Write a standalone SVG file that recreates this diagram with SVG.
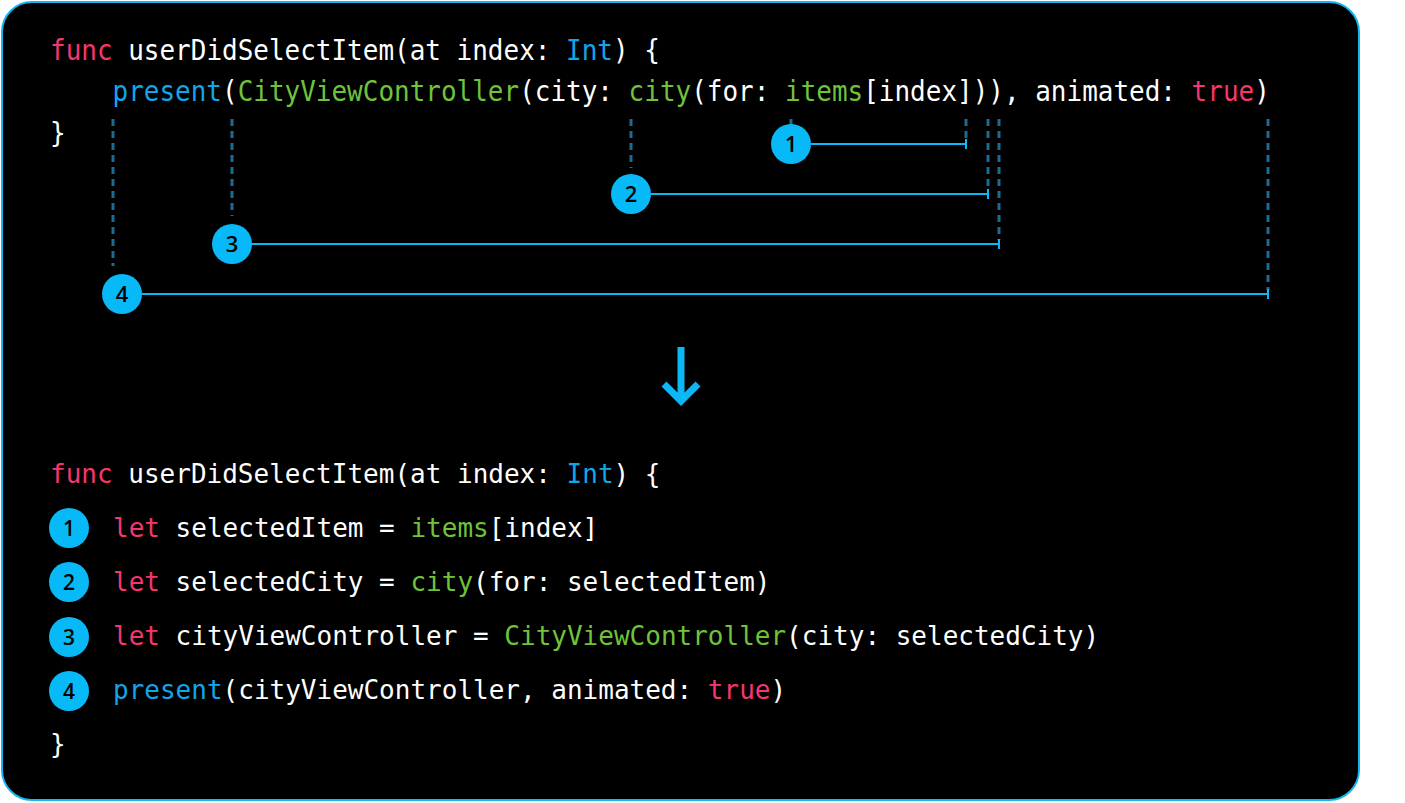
<svg xmlns="http://www.w3.org/2000/svg" width="1405" height="803" viewBox="0 0 1405 803">
<style>
.code{font-family:"DejaVu Sans Mono","Liberation Mono",monospace;fill:#ffffff;white-space:pre}
.top{font-size:28px}
.bot{font-size:26px}
.kw{fill:#f5366f}
.bl{fill:#11a6ea}
.gr{fill:#6fc33b}
.num{font-family:"Open Sans","Noto Sans",sans-serif;font-weight:600;fill:#000000;text-anchor:middle}
.n-top{font-size:22px}
.n-bot{font-size:21px}
.dash{stroke:#1b6c93;stroke-width:3;stroke-dasharray:7 5;fill:none}
.conn{stroke:#0bb8f5;stroke-width:2;fill:none}
.badge{fill:#08b9f8}
</style>
<rect width="1405" height="803" fill="#ffffff"/>
<rect id="panel" x="2" y="2" width="1357" height="798" rx="30" ry="30" fill="#000000" stroke="#14b6f0" stroke-width="2"/>

<g id="original-code">
<g transform="translate(50,0) scale(0.928,1)">
<text class="code top" x="0" y="60"><tspan class="kw">func</tspan> userDidSelectItem(at index: <tspan class="bl">Int</tspan>) {</text>
<text class="code top" x="67.4" y="101"><tspan class="bl">present</tspan>(<tspan class="gr">CityViewController</tspan>(city: <tspan class="gr">city</tspan>(for: <tspan class="gr">items</tspan>[index])), animated: <tspan class="kw">true</tspan>)</text>
<text class="code top" x="0" y="143">}</text>
</g>
</g>

<g id="connectors">
<line class="dash" x1="113" y1="119" x2="113" y2="266"/>
<line class="dash" x1="232" y1="119" x2="232" y2="216"/>
<line class="dash" x1="631" y1="119" x2="631" y2="168"/>
<line class="dash" x1="791" y1="119" x2="791" y2="126"/>
<line class="dash" x1="966" y1="119" x2="966" y2="140"/>
<line class="dash" x1="988" y1="119" x2="988" y2="190"/>
<line class="dash" x1="999" y1="119" x2="999" y2="240"/>
<line class="dash" x1="1268" y1="119" x2="1268" y2="290"/>
<path class="conn" d="M811 144H966M966 139V149"/>
<path class="conn" d="M651 194H988M988 189V199"/>
<path class="conn" d="M252 244H999M999 239V249"/>
<path class="conn" d="M142 294H1268M1268 289V299"/>
</g>

<g id="badge-1"><circle class="badge" cx="791" cy="144" r="20"/><text class="num n-top" x="791" y="152">1</text></g>
<g id="badge-2"><circle class="badge" cx="631" cy="194" r="20"/><text class="num n-top" x="631" y="202">2</text></g>
<g id="badge-3"><circle class="badge" cx="232" cy="244" r="20"/><text class="num n-top" x="232" y="252">3</text></g>
<g id="badge-4"><circle class="badge" cx="122" cy="294" r="20"/><text class="num n-top" x="122" y="302">4</text></g>

<g id="arrow">
<path d="M681 347V400M664 384L681 401L698 384" stroke="#0bb8f5" stroke-width="7" fill="none"/>
</g>

<g id="refactored-code">
<text class="code bot" x="50" y="483"><tspan class="kw">func</tspan> userDidSelectItem(at index: <tspan class="bl">Int</tspan>) {</text>
<text class="code bot" x="113" y="537"><tspan class="kw">let</tspan> selectedItem = <tspan class="gr">items</tspan>[index]</text>
<text class="code bot" x="113" y="591"><tspan class="kw">let</tspan> selectedCity = <tspan class="gr">city</tspan>(for: selectedItem)</text>
<text class="code bot" x="113" y="645"><tspan class="kw">let</tspan> cityViewController = <tspan class="gr">CityViewController</tspan>(city: selectedCity)</text>
<text class="code bot" x="113" y="699"><tspan class="bl">present</tspan>(cityViewController, animated: <tspan class="kw">true</tspan>)</text>
<text class="code bot" x="50" y="753">}</text>
</g>

<g id="step-1"><circle class="badge" cx="69" cy="528" r="20"/><text class="num n-bot" x="69" y="536">1</text></g>
<g id="step-2"><circle class="badge" cx="69" cy="582" r="20"/><text class="num n-bot" x="69" y="590">2</text></g>
<g id="step-3"><circle class="badge" cx="69" cy="637" r="20"/><text class="num n-bot" x="69" y="645">3</text></g>
<g id="step-4"><circle class="badge" cx="69" cy="691" r="20"/><text class="num n-bot" x="69" y="699">4</text></g>
</svg>
